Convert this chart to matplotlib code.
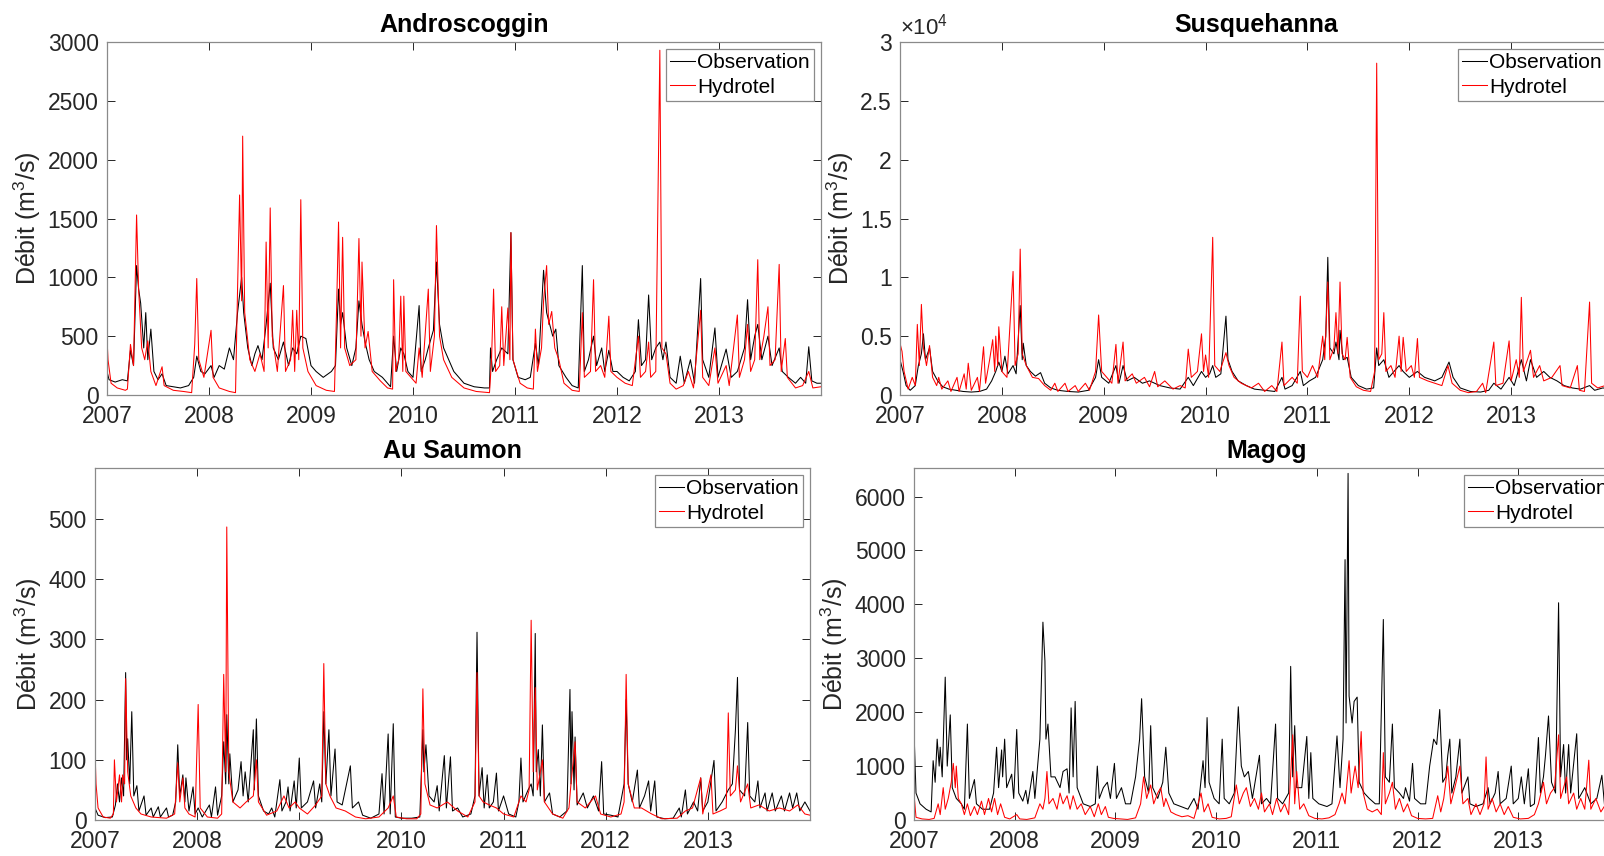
import matplotlib
matplotlib.use("Agg")
import matplotlib.pyplot as plt
from matplotlib.ticker import FuncFormatter

plt.rcParams['font.family'] = ['Liberation Sans', 'DejaVu Sans']
plt.rcParams['mathtext.fontset'] = 'custom'
plt.rcParams['mathtext.rm'] = 'Liberation Sans'
plt.rcParams['mathtext.it'] = 'Liberation Sans'

# ---------------- data (decimal year, discharge m3/s) ----------------
andro_obs = [(2007.00,200),(2007.02,130),(2007.08,110),(2007.15,130),(2007.20,120),(2007.23,380),(2007.26,250),
    (2007.29,1100),(2007.31,900),(2007.33,780),(2007.36,400),(2007.38,700),(2007.40,300),(2007.43,560),(2007.46,200),
    (2007.50,130),(2007.54,180),(2007.58,80),(2007.65,70),(2007.72,60),(2007.80,80),(2007.85,150),(2007.88,330),
    (2007.92,200),(2007.96,180),(2008.02,250),(2008.05,150),(2008.10,250),(2008.15,220),(2008.20,400),(2008.24,300),
    (2008.28,700),(2008.32,1000),(2008.34,700),(2008.38,400),(2008.42,250),(2008.45,350),(2008.48,420),(2008.52,300),
    (2008.56,600),(2008.60,950),(2008.63,400),(2008.68,300),(2008.73,450),(2008.78,250),(2008.82,400),(2008.86,350),
    (2008.90,500),(2008.95,480),(2009.00,250),(2009.05,200),(2009.12,150),(2009.20,200),(2009.24,250),(2009.27,900),
    (2009.29,600),(2009.31,700),(2009.35,400),(2009.40,250),(2009.44,400),(2009.47,800),(2009.50,600),(2009.53,450),
    (2009.57,300),(2009.62,200),(2009.70,150),(2009.78,70),(2009.81,500),(2009.84,200),(2009.88,400),(2009.91,350),
    (2009.95,200),(2010.00,150),(2010.06,760),(2010.08,200),(2010.12,300),(2010.15,400),(2010.20,550),(2010.23,1130),
    (2010.26,600),(2010.30,400),(2010.35,300),(2010.40,200),(2010.50,100),(2010.60,70),(2010.70,60),(2010.75,60),
    (2010.76,400),(2010.78,200),(2010.82,300),(2010.87,400),(2010.93,350),(2010.96,1380),(2010.98,300),(2011.03,150),
    (2011.10,130),(2011.15,150),(2011.20,440),(2011.23,250),(2011.28,1060),(2011.31,700),(2011.34,600),(2011.37,500),
    (2011.40,560),(2011.43,250),(2011.50,150),(2011.56,80),(2011.62,60),(2011.66,1100),(2011.68,200),(2011.72,300),
    (2011.77,500),(2011.80,250),(2011.85,400),(2011.88,200),(2011.92,380),(2011.96,200),(2012.00,200),(2012.06,150),
    (2012.12,120),(2012.18,200),(2012.21,640),(2012.24,250),(2012.28,300),(2012.31,850),(2012.34,300),(2012.38,400),
    (2012.42,450),(2012.45,300),(2012.48,450),(2012.52,150),(2012.58,100),(2012.62,330),(2012.66,100),(2012.72,300),
    (2012.76,100),(2012.82,990),(2012.84,300),(2012.90,150),(2012.96,570),(2012.99,150),(2013.07,390),(2013.12,150),
    (2013.18,200),(2013.25,400),(2013.28,810),(2013.31,300),(2013.35,500),(2013.38,600),(2013.42,300),(2013.48,500),
    (2013.52,250),(2013.59,400),(2013.62,200),(2013.68,150),(2013.75,100),(2013.80,150),(2013.85,100),(2013.88,410),
    (2013.91,120),(2013.96,100),(2014.00,100)]
andro_sim = [(2007.00,480),(2007.01,300),(2007.04,100),(2007.10,60),(2007.18,40),(2007.20,50),(2007.23,430),(2007.26,250),
    (2007.29,1530),(2007.31,900),(2007.34,400),(2007.37,300),(2007.40,460),(2007.43,200),(2007.48,80),(2007.54,240),
    (2007.56,80),(2007.65,40),(2007.75,30),(2007.83,20),(2007.86,430),(2007.88,990),(2007.90,300),(2007.95,150),
    (2008.02,550),(2008.04,150),(2008.10,60),(2008.20,30),(2008.26,20),(2008.28,900),(2008.30,1700),(2008.32,800),
    (2008.33,2200),(2008.35,700),(2008.40,300),(2008.45,200),(2008.50,350),(2008.54,200),(2008.56,1300),(2008.58,400),
    (2008.60,1590),(2008.62,500),(2008.67,200),(2008.73,930),(2008.75,200),(2008.80,300),(2008.82,720),(2008.84,200),
    (2008.86,720),(2008.88,300),(2008.90,1660),(2008.92,400),(2008.97,200),(2009.05,80),(2009.15,40),(2009.23,30),
    (2009.25,700),(2009.27,1470),(2009.29,400),(2009.31,1340),(2009.33,400),(2009.38,250),(2009.44,300),(2009.47,1330),
    (2009.49,500),(2009.50,1130),(2009.53,400),(2009.56,540),(2009.60,200),(2009.68,120),(2009.75,60),(2009.80,50),
    (2009.81,980),(2009.83,200),(2009.86,300),(2009.88,840),(2009.90,200),(2009.91,840),(2009.93,200),(2009.98,150),
    (2010.03,100),(2010.06,400),(2010.09,150),(2010.15,900),(2010.17,200),(2010.21,500),(2010.23,1440),(2010.26,500),
    (2010.30,300),(2010.38,150),(2010.50,60),(2010.62,30),(2010.75,20),(2010.77,300),(2010.79,900),(2010.81,200),
    (2010.85,250),(2010.87,750),(2010.89,250),(2010.93,740),(2010.95,300),(2010.96,1380),(2010.98,300),(2011.05,100),
    (2011.12,60),(2011.18,50),(2011.20,560),(2011.22,200),(2011.26,400),(2011.28,800),(2011.31,1100),(2011.33,600),
    (2011.36,710),(2011.39,400),(2011.43,300),(2011.48,100),(2011.56,40),(2011.63,30),(2011.66,700),(2011.68,150),
    (2011.74,200),(2011.77,980),(2011.79,200),(2011.84,250),(2011.88,150),(2011.92,670),(2011.94,200),(2012.00,150),
    (2012.08,100),(2012.15,80),(2012.21,500),(2012.23,150),(2012.28,200),(2012.31,450),(2012.33,150),(2012.38,200),
    (2012.42,2930),(2012.44,400),(2012.48,350),(2012.52,100),(2012.58,50),(2012.65,80),(2012.70,200),(2012.75,60),
    (2012.82,720),(2012.84,150),(2012.90,80),(2012.96,400),(2012.99,100),(2013.07,250),(2013.10,80),(2013.18,680),
    (2013.20,150),(2013.25,300),(2013.28,600),(2013.31,200),(2013.35,300),(2013.38,1150),(2013.40,300),(2013.44,500),
    (2013.48,750),(2013.50,250),(2013.55,300),(2013.59,1110),(2013.61,200),(2013.65,480),(2013.67,150),(2013.75,60),
    (2013.82,80),(2013.88,200),(2013.92,60),(2014.00,70)]

susq_obs = [(2007.00,3000),(2007.03,2000),(2007.06,800),(2007.10,400),(2007.15,800),(2007.18,2500),(2007.21,3500),
    (2007.23,5200),(2007.25,3000),(2007.29,4000),(2007.32,2000),(2007.37,1200),(2007.42,700),(2007.48,500),(2007.55,400),
    (2007.62,300),(2007.70,250),(2007.78,300),(2007.85,500),(2007.90,1200),(2007.94,2000),(2007.97,2800),(2008.00,2000),
    (2008.03,3300),(2008.06,1800),(2008.11,2500),(2008.14,1800),(2008.18,7600),(2008.20,3000),(2008.21,4400),(2008.24,2500),
    (2008.28,2000),(2008.33,1600),(2008.38,1900),(2008.42,1000),(2008.48,600),(2008.55,400),(2008.65,300),(2008.75,250),
    (2008.85,400),(2008.92,1500),(2008.95,3000),(2008.98,1500),(2009.05,1000),(2009.12,2500),(2009.15,1000),(2009.19,2500),
    (2009.23,1200),(2009.30,1500),(2009.38,1000),(2009.45,1200),(2009.55,800),(2009.65,600),(2009.75,500),(2009.83,1500),
    (2009.88,800),(2009.96,2000),(2010.00,1500),(2010.04,1800),(2010.07,2500),(2010.10,1500),(2010.15,1800),(2010.20,6700),
    (2010.22,3000),(2010.26,2000),(2010.32,1200),(2010.40,800),(2010.48,500),(2010.58,400),(2010.68,300),(2010.75,1500),
    (2010.78,500),(2010.85,800),(2010.93,2000),(2010.96,800),(2011.02,1200),(2011.08,1500),(2011.15,3000),(2011.18,5000),
    (2011.20,11700),(2011.22,4000),(2011.26,3500),(2011.28,4500),(2011.31,3000),(2011.32,5500),(2011.35,3000),(2011.39,3200),
    (2011.43,1500),(2011.50,800),(2011.58,500),(2011.65,600),(2011.68,4000),(2011.70,2500),(2011.75,3000),(2011.80,1500),
    (2011.90,2500),(2011.94,2000),(2012.00,1500),(2012.08,2000),(2012.15,1500),(2012.25,1200),(2012.32,1500),(2012.39,2800),
    (2012.43,1500),(2012.50,600),(2012.60,300),(2012.70,250),(2012.78,400),(2012.83,1000),(2012.90,500),(2012.98,1500),
    (2013.03,800),(2013.10,3000),(2013.15,1200),(2013.19,3000),(2013.25,1500),(2013.32,2000),(2013.38,1500),(2013.45,1200),
    (2013.52,800),(2013.60,600),(2013.68,500),(2013.77,800),(2013.82,400),(2013.90,600),(2014.00,500)]
susq_sim = [(2007.00,4400),(2007.02,3700),(2007.04,2000),(2007.08,500),(2007.12,1500),(2007.15,800),(2007.17,6000),
    (2007.19,2500),(2007.21,7700),(2007.23,4000),(2007.26,2500),(2007.29,4200),(2007.32,1500),(2007.36,800),(2007.38,1500),
    (2007.41,500),(2007.47,1200),(2007.50,300),(2007.56,1500),(2007.58,300),(2007.63,1800),(2007.65,500),(2007.67,2700),
    (2007.70,400),(2007.76,1500),(2007.78,300),(2007.82,4100),(2007.84,1000),(2007.88,3000),(2007.91,4700),(2007.93,2000),
    (2007.94,5000),(2007.96,2500),(2007.97,5800),(2008.00,2000),(2008.05,1500),(2008.11,10500),(2008.13,2500),(2008.16,3500),
    (2008.18,12400),(2008.20,3500),(2008.24,2500),(2008.30,1500),(2008.36,1400),(2008.42,800),(2008.48,400),(2008.52,1000),
    (2008.55,300),(2008.62,1000),(2008.65,300),(2008.72,800),(2008.75,300),(2008.82,1000),(2008.86,400),(2008.92,2000),
    (2008.95,6800),(2008.98,2000),(2009.03,1500),(2009.08,1000),(2009.12,4300),(2009.14,1000),(2009.19,4500),(2009.21,1200),
    (2009.28,1800),(2009.32,1000),(2009.40,1500),(2009.45,700),(2009.50,2000),(2009.53,700),(2009.60,1200),(2009.68,500),
    (2009.75,800),(2009.80,600),(2009.83,3900),(2009.86,1500),(2009.92,2000),(2009.96,5200),(2009.98,2000),(2010.00,3400),
    (2010.03,1500),(2010.07,13400),(2010.09,2500),(2010.14,2000),(2010.20,3600),(2010.23,2500),(2010.28,1500),(2010.35,1000),
    (2010.45,600),(2010.52,1000),(2010.58,300),(2010.65,800),(2010.70,300),(2010.75,4500),(2010.77,800),(2010.85,1500),
    (2010.90,1000),(2010.93,8400),(2010.95,2000),(2011.00,1500),(2011.05,2500),(2011.10,1500),(2011.15,5000),(2011.17,3000),
    (2011.20,9600),(2011.22,3000),(2011.26,4000),(2011.28,7000),(2011.30,3500),(2011.32,9600),(2011.34,3500),(2011.37,3000),
    (2011.39,4900),(2011.42,1500),(2011.48,700),(2011.55,400),(2011.62,300),(2011.66,2000),(2011.68,28200),(2011.70,3000),
    (2011.73,3500),(2011.75,7000),(2011.77,2000),(2011.82,2500),(2011.86,1500),(2011.90,5000),(2011.92,2000),(2011.94,4900),
    (2011.97,2000),(2012.02,2500),(2012.05,1500),(2012.08,4800),(2012.10,1500),(2012.18,1200),(2012.25,1000),(2012.32,800),
    (2012.38,2500),(2012.42,1000),(2012.50,400),(2012.58,200),(2012.66,300),(2012.72,1000),(2012.75,200),(2012.83,4500),
    (2012.85,800),(2012.92,1000),(2012.98,4600),(2013.00,1200),(2013.05,3000),(2013.08,1500),(2013.10,8300),(2013.12,2000),
    (2013.16,3000),(2013.19,3800),(2013.22,1500),(2013.28,2500),(2013.32,1200),(2013.40,1500),(2013.48,2500),(2013.50,800),
    (2013.58,600),(2013.65,2500),(2013.67,400),(2013.72,300),(2013.77,7900),(2013.79,1000),(2013.85,600),(2013.92,800),
    (2014.00,500)]

saumon_obs = [(2007.00,20),(2007.03,8),(2007.10,4),(2007.17,5),(2007.20,25),(2007.22,60),(2007.24,30),(2007.26,70),
    (2007.28,40),(2007.30,245),(2007.31,100),(2007.32,135),(2007.34,60),(2007.36,180),(2007.38,40),(2007.41,57),(2007.43,15),
    (2007.48,40),(2007.50,8),(2007.55,20),(2007.57,5),(2007.62,22),(2007.64,5),(2007.70,20),(2007.72,5),(2007.76,8),
    (2007.79,30),(2007.81,125),(2007.83,40),(2007.86,75),(2007.88,30),(2007.89,70),(2007.92,15),(2007.96,55),(2007.98,10),
    (2008.01,20),(2008.05,5),(2008.12,25),(2008.14,5),(2008.18,55),(2008.20,8),(2008.24,40),(2008.26,130),(2008.28,60),
    (2008.29,175),(2008.31,60),(2008.32,110),(2008.35,30),(2008.40,50),(2008.43,97),(2008.45,40),(2008.47,80),(2008.50,30),
    (2008.55,150),(2008.56,50),(2008.58,168),(2008.60,40),(2008.65,15),(2008.70,10),(2008.73,20),(2008.76,5),(2008.81,67),
    (2008.83,15),(2008.87,30),(2008.89,55),(2008.91,15),(2008.95,65),(2008.97,20),(2009.00,103),(2009.02,20),(2009.08,30),
    (2009.14,65),(2009.16,20),(2009.20,60),(2009.22,30),(2009.24,180),(2009.26,60),(2009.29,150),(2009.31,40),(2009.35,118),
    (2009.37,30),(2009.42,25),(2009.50,90),(2009.52,20),(2009.58,30),(2009.62,8),(2009.70,3),(2009.78,10),(2009.81,77),
    (2009.83,10),(2009.87,143),(2009.89,10),(2009.92,160),(2009.94,5),(2010.00,3),(2010.10,3),(2010.18,5),(2010.21,150),
    (2010.22,80),(2010.24,125),(2010.27,40),(2010.32,30),(2010.35,57),(2010.37,15),(2010.42,107),(2010.44,20),(2010.48,105),
    (2010.50,15),(2010.55,20),(2010.60,5),(2010.68,10),(2010.72,40),(2010.74,312),(2010.76,40),(2010.79,87),(2010.81,20),
    (2010.84,75),(2010.86,20),(2010.90,30),(2010.93,78),(2010.95,15),(2011.00,40),(2011.05,10),(2011.12,5),(2011.15,30),
    (2011.17,103),(2011.19,30),(2011.24,50),(2011.27,60),(2011.29,40),(2011.31,310),(2011.32,80),(2011.34,117),(2011.36,40),
    (2011.38,158),(2011.40,30),(2011.45,45),(2011.48,10),(2011.55,5),(2011.62,15),(2011.65,217),(2011.66,60),(2011.67,180),
    (2011.69,50),(2011.70,138),(2011.72,25),(2011.78,45),(2011.82,20),(2011.88,40),(2011.93,15),(2011.96,97),(2011.98,10),
    (2012.05,8),(2012.12,5),(2012.18,60),(2012.20,200),(2012.22,60),(2012.26,30),(2012.31,83),(2012.33,20),(2012.38,40),
    (2012.42,65),(2012.44,15),(2012.48,65),(2012.50,5),(2012.58,2),(2012.66,3),(2012.72,20),(2012.74,5),(2012.78,50),
    (2012.80,10),(2012.86,30),(2012.90,15),(2012.93,70),(2012.95,15),(2013.00,30),(2013.06,99),(2013.08,15),(2013.14,30),
    (2013.20,50),(2013.24,60),(2013.27,150),(2013.29,237),(2013.31,50),(2013.36,40),(2013.39,162),(2013.41,40),(2013.46,30),
    (2013.49,65),(2013.51,20),(2013.56,45),(2013.58,15),(2013.63,45),(2013.66,15),(2013.72,40),(2013.75,15),(2013.80,45),
    (2013.83,20),(2013.87,45),(2013.90,15),(2013.95,30),(2014.00,15)]
saumon_sim = [(2007.00,115),(2007.01,60),(2007.03,20),(2007.08,5),(2007.15,3),(2007.18,10),(2007.19,100),(2007.21,30),
    (2007.24,75),(2007.26,30),(2007.27,75),(2007.29,60),(2007.30,235),(2007.32,80),(2007.35,40),(2007.40,20),(2007.45,10),
    (2007.55,5),(2007.70,3),(2007.78,10),(2007.81,95),(2007.83,30),(2007.86,70),(2007.88,20),(2007.92,10),(2007.98,5),
    (2008.01,192),(2008.03,20),(2008.10,5),(2008.20,3),(2008.24,10),(2008.26,242),(2008.28,80),(2008.29,487),(2008.31,80),
    (2008.35,30),(2008.42,20),(2008.48,30),(2008.55,40),(2008.58,100),(2008.60,30),(2008.68,8),(2008.78,15),(2008.85,40),
    (2008.90,20),(2008.96,30),(2009.00,20),(2009.08,10),(2009.16,25),(2009.22,40),(2009.24,260),(2009.26,60),(2009.30,40),
    (2009.36,20),(2009.45,15),(2009.55,5),(2009.65,2),(2009.78,5),(2009.87,20),(2009.92,40),(2009.95,5),(2010.05,2),
    (2010.15,2),(2010.19,10),(2010.21,218),(2010.23,60),(2010.28,25),(2010.35,20),(2010.45,30),(2010.55,15),(2010.65,5),
    (2010.72,30),(2010.74,245),(2010.76,40),(2010.80,30),(2010.86,25),(2010.93,20),(2011.00,10),(2011.10,5),(2011.17,40),
    (2011.22,30),(2011.25,50),(2011.27,332),(2011.29,80),(2011.31,220),(2011.33,50),(2011.38,100),(2011.40,30),(2011.48,10),
    (2011.58,3),(2011.64,20),(2011.66,60),(2011.70,130),(2011.72,30),(2011.80,20),(2011.90,40),(2011.95,10),(2012.05,5),
    (2012.15,10),(2012.18,30),(2012.20,242),(2012.22,60),(2012.28,20),(2012.35,20),(2012.45,10),(2012.55,2),(2012.70,3),
    (2012.78,15),(2012.85,20),(2012.93,70),(2012.95,10),(2013.03,75),(2013.05,10),(2013.12,15),(2013.18,20),(2013.20,178),
    (2013.22,40),(2013.27,50),(2013.29,90),(2013.32,30),(2013.39,60),(2013.42,20),(2013.50,25),(2013.60,15),(2013.70,20),
    (2013.80,15),(2013.88,25),(2013.95,10),(2014.00,8)]

magog_obs = [(2007.00,1650),(2007.02,500),(2007.06,300),(2007.12,200),(2007.17,150),(2007.19,1100),(2007.21,700),
    (2007.23,1500),(2007.25,1000),(2007.26,1350),(2007.28,800),(2007.31,2650),(2007.33,1000),(2007.36,1950),(2007.38,600),
    (2007.42,400),(2007.47,300),(2007.50,200),(2007.53,1780),(2007.55,400),(2007.60,750),(2007.62,300),(2007.68,200),
    (2007.75,200),(2007.79,500),(2007.82,1350),(2007.84,600),(2007.87,1300),(2007.88,800),(2007.90,1500),(2007.92,600),
    (2007.97,850),(2007.99,400),(2008.02,1680),(2008.04,500),(2008.08,350),(2008.11,550),(2008.13,300),(2008.18,900),
    (2008.20,400),(2008.25,1500),(2008.28,3670),(2008.30,2950),(2008.31,1500),(2008.33,1780),(2008.36,800),(2008.40,800),
    (2008.45,600),(2008.48,900),(2008.52,950),(2008.54,500),(2008.56,2080),(2008.58,800),(2008.60,2200),(2008.62,600),
    (2008.68,300),(2008.75,250),(2008.80,300),(2008.82,1000),(2008.84,400),(2008.88,600),(2008.92,700),(2008.95,400),
    (2008.99,1050),(2009.01,400),(2009.06,600),(2009.10,300),(2009.15,300),(2009.20,800),(2009.24,1500),(2009.26,2250),
    (2009.29,800),(2009.33,500),(2009.35,1750),(2009.37,600),(2009.42,400),(2009.47,700),(2009.50,1350),(2009.53,500),
    (2009.58,300),(2009.65,250),(2009.72,200),(2009.78,400),(2009.82,200),(2009.87,1100),(2009.89,600),(2009.91,1900),
    (2009.93,700),(2009.98,400),(2010.03,300),(2010.06,1500),(2010.08,400),(2010.13,300),(2010.18,500),(2010.22,2100),
    (2010.25,1000),(2010.28,800),(2010.32,900),(2010.36,400),(2010.43,1200),(2010.45,300),(2010.50,400),(2010.54,300),
    (2010.59,1780),(2010.61,400),(2010.66,300),(2010.72,500),(2010.74,2850),(2010.76,800),(2010.78,1750),(2010.80,600),
    (2010.85,600),(2010.90,1550),(2010.92,400),(2010.94,1250),(2010.96,400),(2011.02,300),(2011.10,250),(2011.15,300),
    (2011.20,1560),(2011.23,600),(2011.26,1500),(2011.28,4830),(2011.29,1800),(2011.31,6430),(2011.32,2300),(2011.35,1800),
    (2011.37,2200),(2011.40,2280),(2011.42,700),(2011.47,500),(2011.52,400),(2011.58,300),(2011.62,300),(2011.66,3720),
    (2011.68,800),(2011.72,700),(2011.75,1780),(2011.77,600),(2011.82,500),(2011.86,400),(2011.88,600),(2011.92,350),
    (2011.95,1050),(2011.97,400),(2012.03,300),(2012.08,300),(2012.12,1000),(2012.16,1500),(2012.19,1400),(2012.22,2050),
    (2012.25,700),(2012.28,800),(2012.30,1200),(2012.32,1500),(2012.34,500),(2012.38,800),(2012.42,1500),(2012.44,500),
    (2012.50,800),(2012.52,300),(2012.58,250),(2012.65,300),(2012.70,600),(2012.72,300),(2012.77,500),(2012.80,900),
    (2012.82,300),(2012.88,400),(2012.93,1000),(2012.95,300),(2013.00,400),(2013.03,800),(2013.06,300),(2013.10,950),
    (2013.12,250),(2013.16,300),(2013.20,1530),(2013.22,500),(2013.25,800),(2013.27,1200),(2013.30,1930),(2013.33,700),
    (2013.37,500),(2013.40,4030),(2013.42,800),(2013.45,1400),(2013.47,500),(2013.50,1400),(2013.52,500),(2013.58,1600),
    (2013.60,400),(2013.66,600),(2013.72,300),(2013.78,400),(2013.83,830),(2013.86,200),(2013.92,300),(2014.00,200)]
magog_sim = [(2007.00,480),(2007.02,50),(2007.08,20),(2007.15,10),(2007.20,30),(2007.24,300),(2007.26,100),(2007.29,600),
    (2007.31,200),(2007.34,400),(2007.37,700),(2007.39,1050),(2007.41,600),(2007.42,1000),(2007.44,400),(2007.47,300),
    (2007.50,100),(2007.53,300),(2007.56,80),(2007.60,250),(2007.63,100),(2007.67,350),(2007.70,100),(2007.74,400),
    (2007.77,150),(2007.80,400),(2007.83,100),(2007.86,300),(2007.90,50),(2007.95,20),(2008.02,100),(2008.05,20),
    (2008.12,10),(2008.20,40),(2008.25,300),(2008.28,200),(2008.30,400),(2008.32,900),(2008.34,300),(2008.38,400),
    (2008.42,200),(2008.45,500),(2008.48,300),(2008.52,450),(2008.55,200),(2008.58,450),(2008.62,200),(2008.66,300),
    (2008.70,100),(2008.75,250),(2008.79,60),(2008.83,300),(2008.86,100),(2008.90,250),(2008.93,50),(2008.98,30),
    (2009.05,20),(2009.12,10),(2009.20,40),(2009.25,300),(2009.28,800),(2009.31,400),(2009.35,650),(2009.38,300),
    (2009.42,500),(2009.45,600),(2009.48,250),(2009.50,400),(2009.55,150),(2009.60,100),(2009.66,60),(2009.72,80),
    (2009.78,30),(2009.82,300),(2009.85,500),(2009.88,150),(2009.92,300),(2009.96,50),(2010.03,20),(2010.10,30),
    (2010.15,60),(2010.20,650),(2010.23,300),(2010.27,500),(2010.30,600),(2010.34,250),(2010.38,400),(2010.42,200),
    (2010.45,500),(2010.48,150),(2010.53,300),(2010.56,100),(2010.60,400),(2010.64,150),(2010.68,300),(2010.72,100),
    (2010.76,1580),(2010.78,300),(2010.80,900),(2010.83,200),(2010.87,300),(2010.92,80),(2010.98,30),(2011.05,20),
    (2011.12,40),(2011.18,100),(2011.22,300),(2011.25,500),(2011.28,300),(2011.32,1100),(2011.34,500),(2011.38,1000),
    (2011.41,600),(2011.44,1640),(2011.46,500),(2011.50,200),(2011.55,150),(2011.60,200),(2011.64,100),(2011.66,1250),
    (2011.68,300),(2011.72,500),(2011.75,700),(2011.78,200),(2011.82,400),(2011.86,150),(2011.90,300),(2011.94,80),
    (2012.00,30),(2012.08,20),(2012.15,30),(2012.20,450),(2012.23,150),(2012.26,400),(2012.30,1000),(2012.33,300),
    (2012.37,600),(2012.42,1000),(2012.45,300),(2012.50,400),(2012.53,100),(2012.58,300),(2012.62,100),(2012.66,300),
    (2012.68,1170),(2012.70,200),(2012.74,400),(2012.78,150),(2012.82,300),(2012.86,100),(2012.90,250),(2012.95,50),
    (2013.02,20),(2013.10,30),(2013.16,100),(2013.20,300),(2013.25,700),(2013.28,300),(2013.32,500),(2013.36,600),
    (2013.40,1580),(2013.42,400),(2013.45,600),(2013.48,800),(2013.50,300),(2013.55,500),(2013.58,200),(2013.62,400),
    (2013.66,200),(2013.70,1110),(2013.72,200),(2013.77,400),(2013.82,150),(2013.87,300),(2013.92,400),(2014.00,300)]

titles = ["Androscoggin", "Susquehanna", "Au Saumon", "Magog"]
series = [(andro_obs, andro_sim), (susq_obs, susq_sim), (saumon_obs, saumon_sim), (magog_obs, magog_sim)]
ylims = [3000, 30000, 585, 6530]
yticks = [[0, 500, 1000, 1500, 2000, 2500, 3000],
          [0, 5000, 10000, 15000, 20000, 25000, 30000],
          [0, 100, 200, 300, 400, 500],
          [0, 1000, 2000, 3000, 4000, 5000, 6000]]
years = [2007, 2008, 2009, 2010, 2011, 2012, 2013]
labels = ["Observation", "Hydrotel"]

# ---------------- figure ----------------
W, H = 1604, 856
fig = plt.figure(figsize=(W / 100, H / 100), dpi=100)
boxes = [(107, 42, 714, 353), (900, 42, 713, 353), (95, 468, 715, 352), (914, 468, 705, 352)]
axc = '#262626'
for i, (l, t, w, h) in enumerate(boxes):
    ax = fig.add_axes([l / W, 1 - (t + h) / H, w / W, h / H])
    obs, sim = series[i]
    ax.plot([p[0] for p in obs], [p[1] for p in obs], color='black', lw=0.75, label=labels[0])
    ax.plot([p[0] for p in sim], [p[1] for p in sim], color='#ff0000', lw=0.75, label=labels[1])
    ax.set_xlim(2007, 2014)
    ax.set_ylim(0, ylims[i])
    ax.set_xticks(years)
    ax.set_xticklabels([str(y) for y in years])
    ax.set_yticks(yticks[i])
    if i == 1:
        ax.yaxis.set_major_formatter(FuncFormatter(lambda v, p: f"{v / 1e4:g}"))
        ax.text(0.0, 1.008, r'$\times10^4$', transform=ax.transAxes, ha='left', va='bottom',
                fontsize=16, color=axc)
    ax.tick_params(direction='in', length=6, width=0.7, colors=axc, labelsize=16.5,
                   top=True, right=True)
    ax.tick_params(axis='x', pad=7)
    ax.tick_params(axis='y', pad=6)
    for sp in ax.spines.values():
        sp.set_color('#8a8a8a')
        sp.set_linewidth(0.9)
    ax.set_title(titles[i], fontsize=18, fontweight='bold', pad=7)
    ax.set_ylabel('Débit (m$^3$/s)', fontsize=18, color=axc, labelpad=3)
    leg = ax.legend(loc='upper right', fontsize=15, handlelength=1.2, handletextpad=0.1,
                    borderpad=0.2, labelspacing=0.25, borderaxespad=0.35, fancybox=False,
                    framealpha=1)
    leg.get_frame().set_edgecolor('#8a8a8a')
    leg.get_frame().set_linewidth(0.9)

fig.savefig('out.png', dpi=100)
